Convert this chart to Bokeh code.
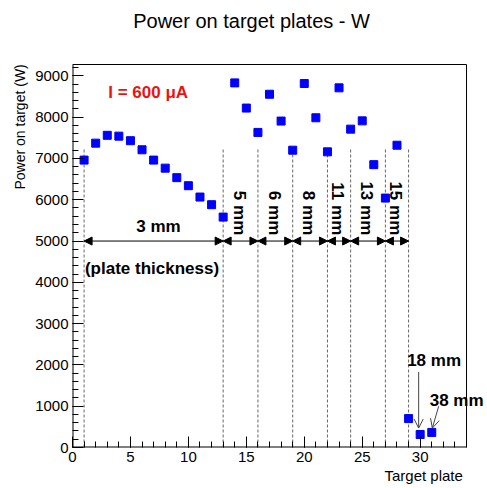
import math
from bokeh.plotting import figure
from bokeh.models import (Range1d, FixedTicker, Arrow, NormalHead, OpenHead, Label,
                          ColumnDataSource, Title)
from bokeh.core.properties import value
from bokeh.embed import file_html
from bokeh.resources import INLINE

# ---- data ----
plates = list(range(1, 32))
power = [6960, 7370, 7560, 7540, 7430, 7210, 6960, 6765, 6535, 6340, 6065, 5880, 5580,
         8830, 8220, 7630, 8555, 7905, 7200, 8815, 7985, 7160, 8710, 7710, 7910, 6850,
         6040, 7320,
         700, 315, 365]

boundaries = [1, 13, 16, 19, 22, 24, 27, 29]
boundary_top = 7230
arrow_level = 5000
seg_start = boundaries[:-1]
seg_end = boundaries[1:]
thick_labels = ["5 mm", "6 mm", "8 mm", "11 mm", "13 mm", "15 mm"]
thick_label_y = 5140

x_ticks = [0, 5, 10, 15, 20, 25, 30]
y_ticks = [0, 1000, 2000, 3000, 4000, 5000, 6000, 7000, 8000, 9000]
x_max = 34
y_max = 9275

FONT = "Liberation Sans"

# The drawing area extends to the right and top canvas edges so that texts such as
# the title and "38 mm" are not clipped; the visible box is drawn at x_max / y_max.
p = figure(width=487, height=488, output_backend="svg", toolbar_location=None,
           x_range=Range1d(0, 35.81), y_range=Range1d(0, 10825),
           min_border_left=72, min_border_right=0, min_border_top=0,
           min_border_bottom=41)
p.background_fill_color = "white"
p.border_fill_color = "white"
p.outline_line_color = None
p.xgrid.visible = False
p.ygrid.visible = False

for ax in (p.xaxis[0], p.yaxis[0]):
    ax.axis_line_color = None
    ax.major_tick_line_color = "black"
    ax.minor_tick_line_color = "black"
    ax.major_tick_in = 11
    ax.major_tick_out = 0
    ax.minor_tick_in = 6
    ax.minor_tick_out = 0
    ax.major_label_text_font = FONT
    ax.major_label_text_font_size = "15px"
    ax.major_label_text_color = "black"
p.xaxis.ticker = FixedTicker(ticks=x_ticks, minor_ticks=list(range(0, x_max + 1)))
p.yaxis.ticker = FixedTicker(ticks=y_ticks, minor_ticks=list(range(0, 9400, 200)))
p.xaxis.major_label_standoff = 4
p.yaxis.major_label_standoff = 4

# box
p.segment(x0=[0, 0], y0=[0, 0], x1=[x_max, 0], y1=[0, y_max], line_color="black",
          line_width=2)
p.segment(x0=[0, x_max], y0=[y_max, 0], x1=[x_max, x_max], y1=[y_max, y_max],
          line_color="black", line_width=1)

# dashed separators
p.segment(x0=boundaries, y0=[0] * len(boundaries), x1=boundaries,
          y1=[boundary_top] * len(boundaries), line_color="#666666",
          line_dash="3 2", line_width=1)

# double arrows for thickness segments
arr_src = ColumnDataSource(dict(x0=seg_start, x1=seg_end,
                                y0=[arrow_level] * len(seg_start),
                                y1=[arrow_level] * len(seg_start)))
p.add_layout(Arrow(start=NormalHead(size=8, fill_color="black", line_color="black"),
                   end=NormalHead(size=8, fill_color="black", line_color="black"),
                   source=arr_src, x_start="x0", y_start="y0", x_end="x1", y_end="y1",
                   line_color="black", line_width=1))

# rotated thickness labels
mid = [(a + b) / 2 - 0.1 for a, b in zip(seg_start[1:], seg_end[1:])]
p.text(x=mid, y=[thick_label_y] * len(mid), text=thick_labels, angle=-math.pi / 2,
       text_align="right", text_baseline="middle", text_font=value(FONT),
       text_font_style="bold", text_font_size="17px", text_color="black")

# points
p.scatter(plates, power, marker="square", size=8, fill_color="#0000ff",
          line_color="#0000ff")

def lab(x, y, text, size="17px", style="bold", color="black", align="center",
        baseline="middle", angle=0.0):
    p.add_layout(Label(x=x, y=y, text=text, text_font=FONT, text_font_size=size,
                       text_font_style=style, text_color=color, text_align=align,
                       text_baseline=baseline, angle=angle))

lab(7.42, 5340, "3 mm")
lab(6.86, 4330, "(plate thickness)")
lab(3.08, 8600, "I = 600 \u03bcA", color="#ee1111", align="left")
lab(31.2, 2095, "18 mm")
lab(33.15, 1145, "38 mm")
lab(15.45, 10340, "Power on target plates - W", size="20px", style="normal")

# small pointer arrows
ptr_src = ColumnDataSource(dict(x0=[29.87, 31.6], y0=[1830, 1000],
                                x1=[29.87, 31.05], y1=[470, 470]))
p.add_layout(Arrow(end=OpenHead(size=9, line_color="#444444", line_width=1),
                   source=ptr_src, x_start="x0", y_start="y0", x_end="x1", y_end="y1",
                   line_color="#444444", line_width=1))

# axis titles
p.add_layout(Title(text="Power on target (W)", align="left", offset=258, text_font=FONT,
                   text_font_size="14px", text_font_style="normal",
                   text_color="black"), "left")
p.add_layout(Title(text="Target plate", align="left", offset=312, standoff=0,
                   text_font=FONT, text_font_size="15px", text_font_style="normal",
                   text_color="black"), "below")

open("out.html", "w").write(file_html(p, INLINE))
